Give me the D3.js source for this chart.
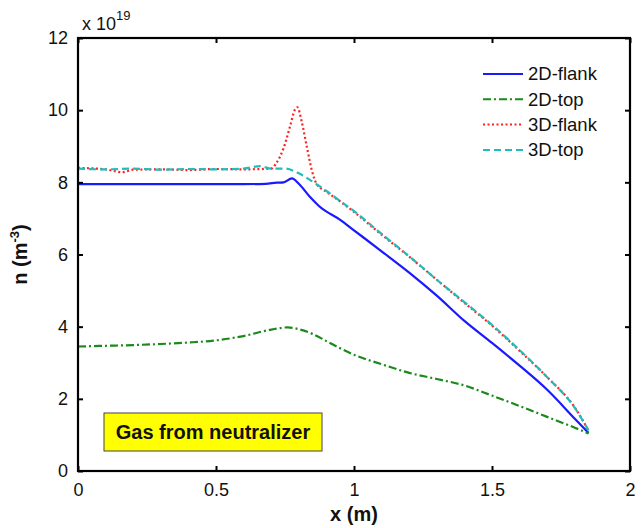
<!DOCTYPE html>
<html>
<head>
<meta charset="utf-8">
<script src="https://cdn.jsdelivr.net/npm/d3@7"></script>
<style>
  body { margin: 0; background: #fff; }
  text { font-family: Arial, "Liberation Sans", sans-serif; }
</style>
</head>
<body>
<div id="chart"></div>
<script>
// values in units of 1e19 m^-3
var xFlank2D = [0, 0.2, 0.4, 0.6, 0.68, 0.72, 0.745, 0.775, 0.8, 0.84, 0.875, 0.95, 1.0, 1.1, 1.2, 1.3, 1.4, 1.5, 1.6, 1.7, 1.8, 1.85];
var flank2D  = [7.95, 7.95, 7.95, 7.95, 7.96, 7.99, 8.0, 8.11, 7.96, 7.60, 7.33, 6.96, 6.67, 6.09, 5.50, 4.86, 4.16, 3.55, 2.92, 2.25, 1.45, 1.05];

var xTop2D = [0, 0.1, 0.2, 0.3, 0.4, 0.5, 0.6, 0.7, 0.76, 0.8, 0.85, 0.9, 1.0, 1.1, 1.2, 1.3, 1.4, 1.5, 1.6, 1.7, 1.8, 1.85];
var top2D  = [3.45, 3.47, 3.49, 3.52, 3.56, 3.62, 3.74, 3.92, 3.98, 3.93, 3.80, 3.60, 3.22, 2.96, 2.72, 2.55, 2.37, 2.09, 1.80, 1.50, 1.20, 1.04];

var xFlank3D = [0, 0.1, 0.16, 0.2, 0.3, 0.4, 0.5, 0.6, 0.7, 0.72, 0.745, 0.77, 0.785, 0.795, 0.81, 0.83, 0.847, 0.865, 0.9, 0.95, 1.0, 1.1, 1.2, 1.3, 1.4, 1.5, 1.6, 1.7, 1.8, 1.85];
var flank3D  = [8.40, 8.36, 8.28, 8.35, 8.36, 8.34, 8.37, 8.36, 8.38, 8.55, 8.95, 9.6, 10.0, 10.08, 9.7, 8.95, 8.34, 7.95, 7.74, 7.47, 7.18, 6.55, 5.94, 5.30, 4.66, 4.03, 3.33, 2.60, 1.76, 1.12];

var xTop3D = [0, 0.1, 0.2, 0.3, 0.4, 0.5, 0.6, 0.66, 0.7, 0.75, 0.8, 0.85, 0.9, 0.95, 1.0, 1.1, 1.2, 1.3, 1.4, 1.5, 1.6, 1.7, 1.8, 1.85];
var top3D  = [8.38, 8.36, 8.38, 8.35, 8.37, 8.36, 8.38, 8.45, 8.38, 8.38, 8.25, 8.02, 7.76, 7.48, 7.20, 6.57, 5.95, 5.30, 4.68, 4.05, 3.35, 2.60, 1.75, 1.12];

var xTicks = [0, 0.5, 1, 1.5, 2];
var yTicks = [0, 2, 4, 6, 8, 10, 12];
var seriesNames = ['2D-flank', '2D-top', '3D-flank', '3D-top'];

var drawChart = function(){
  var width = 643, height = 528;
  var pLeft = 78, pRight = 630, pTop = 38, pBottom = 471;

  var x = d3.scaleLinear().domain([0, 2]).range([pLeft, pRight]);
  var y = d3.scaleLinear().domain([0, 12]).range([pBottom, pTop]);

  var svg = d3.select('#chart').append('svg')
    .attr('width', width)
    .attr('height', height);

  var series = [
    {name: seriesNames[0], xs: xFlank2D, ys: flank2D, color: '#1a1aff', dash: null},
    {name: seriesNames[1], xs: xTop2D, ys: top2D, color: '#1a8a1a', dash: '8,3,2,3'},
    {name: seriesNames[2], xs: xFlank3D, ys: flank3D, color: '#ff2020', dash: '2,2.5'},
    {name: seriesNames[3], xs: xTop3D, ys: top3D, color: '#22bcbc', dash: '7,4'}
  ];

  var line = d3.line()
    .x(function(d){ return x(d[0]); })
    .y(function(d){ return y(d[1]); })
    .curve(d3.curveMonotoneX);

  svg.selectAll('path.series')
    .data(series)
    .enter()
    .append('path')
    .attr('class', 'series')
    .attr('d', function(s){
      return line(s.xs.map(function(v, i){ return [v, s.ys[i]]; }));
    })
    .attr('fill', 'none')
    .attr('stroke', function(s){ return s.color; })
    .attr('stroke-width', 2.2)
    .attr('stroke-dasharray', function(s){ return s.dash; });

  // ticks point inward on all four sides
  var tickLen = 5;
  svg.append('g')
    .attr('transform', 'translate(0,' + pBottom + ')')
    .call(d3.axisBottom(x).tickValues(xTicks).tickSizeInner(-tickLen).tickSizeOuter(0).tickPadding(12)
      .tickFormat(function(d){ return d; }));
  svg.append('g')
    .attr('transform', 'translate(0,' + pTop + ')')
    .call(d3.axisTop(x).tickValues(xTicks).tickSizeInner(-tickLen).tickSizeOuter(0).tickFormat(''));
  svg.append('g')
    .attr('transform', 'translate(' + pLeft + ',0)')
    .call(d3.axisLeft(y).tickValues(yTicks).tickSizeInner(-tickLen).tickSizeOuter(0).tickPadding(10));
  svg.append('g')
    .attr('transform', 'translate(' + pRight + ',0)')
    .call(d3.axisRight(y).tickValues(yTicks).tickSizeInner(-tickLen).tickSizeOuter(0).tickFormat(''));

  svg.selectAll('.domain').remove();
  svg.selectAll('.tick line').attr('stroke', '#000').attr('stroke-width', 2);
  svg.selectAll('.tick text')
    .attr('font-size', 18)
    .attr('fill', '#111')
    .style('font-family', 'Arial, "Liberation Sans", sans-serif');

  svg.append('rect')
    .attr('x', pLeft).attr('y', pTop)
    .attr('width', pRight - pLeft).attr('height', pBottom - pTop)
    .attr('fill', 'none')
    .attr('stroke', '#000')
    .attr('stroke-width', 2.2);

  // exponent label
  var expo = svg.append('text')
    .attr('x', 82).attr('y', 30)
    .attr('font-size', 18)
    .attr('fill', '#111');
  expo.append('tspan').text('x 10');
  expo.append('tspan').attr('dy', -10).attr('font-size', 13).text('19');

  // axis titles
  svg.append('text')
    .attr('x', (pLeft + pRight) / 2).attr('y', 521)
    .attr('text-anchor', 'middle')
    .attr('font-size', 20)
    .attr('font-weight', 'bold')
    .attr('fill', '#111')
    .text('x (m)');

  var yl = svg.append('text')
    .attr('transform', 'translate(27,' + ((pTop + pBottom) / 2) + ') rotate(-90)')
    .attr('text-anchor', 'middle')
    .attr('font-size', 20)
    .attr('font-weight', 'bold')
    .attr('fill', '#111');
  yl.append('tspan').text('n (m');
  yl.append('tspan').attr('dy', -8).attr('font-size', 13).text('-3');
  yl.append('tspan').attr('dy', 8).text(')');

  // legend, no frame
  var rows = svg.append('g').selectAll('g')
    .data(series)
    .enter()
    .append('g')
    .attr('transform', function(d, i){ return 'translate(483,' + (74 + i * 25.3) + ')'; });
  rows.append('line')
    .attr('x1', 0).attr('x2', 40)
    .attr('stroke', function(d){ return d.color; })
    .attr('stroke-width', 2)
    .attr('stroke-dasharray', function(d){ return d.dash; });
  rows.append('text')
    .attr('x', 45).attr('dy', '0.35em')
    .attr('font-size', 18.5)
    .attr('fill', '#111')
    .text(function(d){ return d.name; });

  // annotation box
  svg.append('rect')
    .attr('x', 104).attr('y', 413)
    .attr('width', 218).attr('height', 38)
    .attr('fill', '#ffff00')
    .attr('stroke', '#444')
    .attr('stroke-width', 1);
  svg.append('text')
    .attr('x', 213).attr('y', 432)
    .attr('dy', '0.35em')
    .attr('text-anchor', 'middle')
    .attr('font-size', 20)
    .attr('font-weight', 'bold')
    .attr('fill', '#111')
    .text('Gas from neutralizer');
};

drawChart();
</script>
</body>
</html>
